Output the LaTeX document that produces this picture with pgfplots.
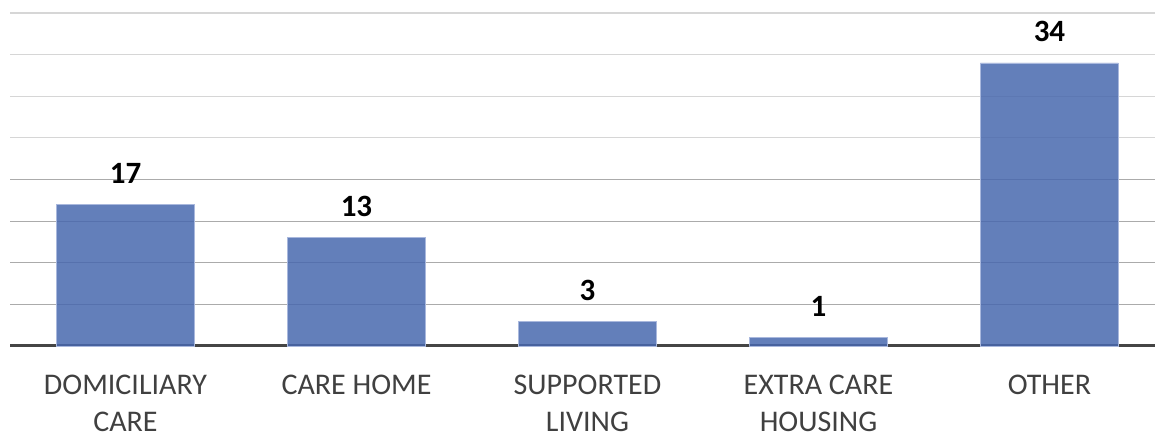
\documentclass[border=0pt]{standalone}
\usepackage{fontspec}
\setmainfont{Carlito}
\usepackage{pgfplots}
\pgfplotsset{compat=1.18}

\definecolor{barblue}{HTML}{4868AE}
\definecolor{baredge}{HTML}{A9B8DD}
\definecolor{labelgray}{HTML}{404040}
\definecolor{gridlight}{HTML}{D6D6D6}
\definecolor{griddark}{HTML}{ABABAB}
\definecolor{baseline}{HTML}{454545}

\begin{document}
\begin{tikzpicture}
\begin{axis}[
  at={(0pt,0pt)}, anchor=south west,
  scale only axis, width=1155pt, height=333pt,
  xmin=-0.5, xmax=4.5, ymin=0, ymax=40,
  axis x line*=bottom, axis y line*=left,
  x axis line style={draw=baseline, line width=3pt, -},
  y axis line style={draw=none},
  xtick={0,1,2,3,4},
  xticklabels={DOMICILIARY\\CARE, CARE HOME, SUPPORTED\\LIVING, EXTRA CARE\\HOUSING, OTHER},
  xticklabel style={align=center, font=\fontsize{30}{37}\selectfont,
    text=labelgray, anchor=north, inner sep=0pt, yshift=-29pt},
  major tick length=0pt,
  ytick={25,30,35,40}, yticklabels={},
  extra y ticks={5,10,15,20}, extra y tick labels={},
  ymajorgrids,
  major grid style={draw=gridlight, line width=1.2pt},
  extra y tick style={major grid style={draw=griddark, line width=1.2pt}},
  ybar, bar width=138pt,
  /pgf/number format/assume math mode=true,
  nodes near coords,
  nodes near coords style={font=\fontsize{31}{39}\selectfont\bfseries,
    text=black, anchor=base, inner sep=0pt, yshift=21pt},
  clip=false,
]
\addplot[fill=barblue, fill opacity=0.85, draw=baredge, line width=0.8pt,
  text opacity=1]
  coordinates {(0,17) (1,13) (2,3) (3,1) (4,34)};
\end{axis}
\pgfresetboundingbox
\path[use as bounding box] (-10pt,-92pt) rectangle (1145pt,346pt);
\end{tikzpicture}
\end{document}
